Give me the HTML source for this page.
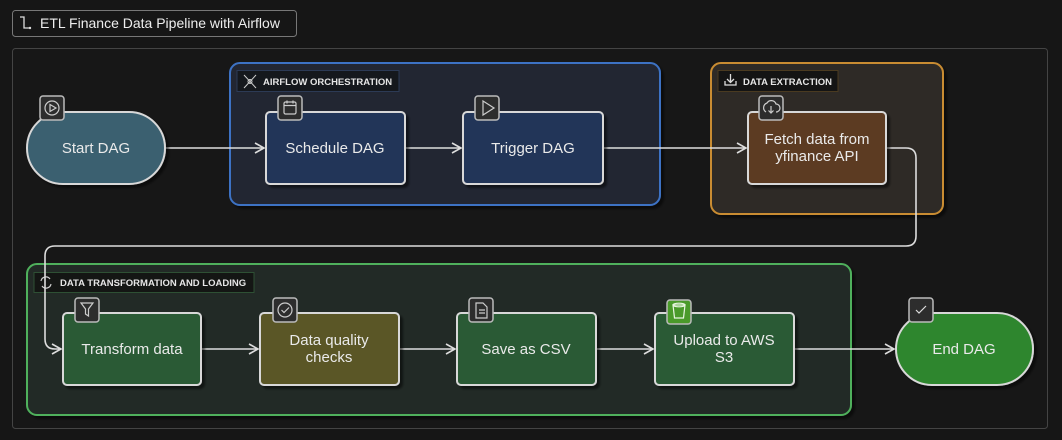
<!DOCTYPE html>
<html><head><meta charset="utf-8"><style>
html,body{margin:0;padding:0;background:#161616;}
svg{display:block;font-family:"Liberation Sans",sans-serif;}
</style></head><body>
<svg width="1062" height="440" viewBox="0 0 1062 440">
<defs>
<marker id="ah" markerWidth="12" markerHeight="12" refX="10" refY="6" orient="auto" markerUnits="userSpaceOnUse">
<path d="M1,1 L10,6 L1,11" fill="none" stroke="#ddd" stroke-width="1.6"/>
</marker>
<filter id="sh"><feDropShadow dx="3" dy="3" stdDeviation="1" flood-color="#000" flood-opacity="0.5"/></filter>
</defs>
<rect width="1062" height="440" fill="#161616"/>
<!-- title -->
<rect x="12.5" y="10.5" width="284" height="26" rx="3" fill="#161616" stroke="#777"/>
<path d="M20 17 h4 v11 h5" fill="none" stroke="#ddd" stroke-width="1.3"/>
<circle cx="30" cy="28" r="1.2" fill="#ddd"/>
<text x="40" y="28" fill="#eee" font-size="14">ETL Finance Data Pipeline with Airflow</text>
<!-- frame -->
<rect x="12.5" y="48.5" width="1035" height="380" rx="3" fill="#171717" stroke="#444"/>
<!-- groups -->
<rect x="230" y="63" width="430" height="142" rx="10" fill="#222831" stroke="#3c72c4" stroke-width="2" filter="url(#sh)"/>
<rect x="237" y="70.5" width="162" height="21" fill="#15181d" stroke="#2c3a55"/>
<text x="263" y="85" fill="#e6e6e6" font-size="9.5" font-weight="bold">AIRFLOW ORCHESTRATION</text>
<g stroke="#ccc" stroke-width="1" fill="none"><path d="M244 75 L256 88 M256 75 L244 88"/><circle cx="250" cy="81.5" r="2"/></g>

<rect x="711" y="63" width="232" height="151" rx="10" fill="#2e2c25" stroke="#c98c32" stroke-width="2" filter="url(#sh)"/>
<rect x="718" y="70.5" width="120" height="21" fill="#141414" stroke="#4a3a20"/>
<text x="743" y="85" fill="#e6e6e6" font-size="9.5" font-weight="bold">DATA EXTRACTION</text>
<path d="M725 81 v4 h11 v-4 M730.5 74 v8 M727 79 l3.5 3.5 l3.5 -3.5" fill="none" stroke="#ddd" stroke-width="1.3"/>

<rect x="27" y="264" width="824" height="151" rx="10" fill="#232a26" stroke="#4fb05c" stroke-width="2" filter="url(#sh)"/>
<rect x="34" y="272.5" width="220" height="20" fill="#141614" stroke="#2e5034"/>
<text x="60" y="286" fill="#e6e6e6" font-size="9.5" font-weight="bold">DATA TRANSFORMATION AND LOADING</text>
<path d="M41 281 a5 5 0 0 1 9 -2 M51 284 a5 5 0 0 1 -9 2" fill="none" stroke="#ccc" stroke-width="1.2"/>

<!-- connectors -->
<g stroke="#ddd" stroke-width="1.6" fill="none">
<path d="M165 148 H264" marker-end="url(#ah)"/>
<path d="M405 148 H461" marker-end="url(#ah)"/>
<path d="M603 148 H746" marker-end="url(#ah)"/>
<path d="M886 148 H906 Q916 148 916 158 V236 Q916 246 906 246 H55 Q45 246 45 256 V339 Q45 349 55 349 H61" marker-end="url(#ah)"/>
<path d="M201 349 H258" marker-end="url(#ah)"/>
<path d="M399 349 H455" marker-end="url(#ah)"/>
<path d="M596 349 H653" marker-end="url(#ah)"/>
<path d="M794 349 H894" marker-end="url(#ah)"/>
</g>

<!-- nodes -->
<g stroke="#d8d8d8" stroke-width="2" filter="url(#sh)">
<rect x="27" y="112" width="138" height="72" rx="36" fill="#3a6070"/>
<rect x="266" y="112" width="139" height="72" rx="4" fill="#223559"/>
<rect x="463" y="112" width="140" height="72" rx="4" fill="#223559"/>
<rect x="748" y="112" width="138" height="72" rx="4" fill="#5c3b22"/>
<rect x="63" y="313" width="138" height="72" rx="4" fill="#2b5a34"/>
<rect x="260" y="313" width="139" height="72" rx="4" fill="#5a5628"/>
<rect x="457" y="313" width="139" height="72" rx="4" fill="#2b5a34"/>
<rect x="655" y="313" width="139" height="72" rx="4" fill="#2b5a34"/>
<rect x="896" y="313" width="137" height="72" rx="36" fill="#2e862e"/>
</g>
<g fill="#eaeaea" font-size="15" text-anchor="middle">
<text x="96" y="153">Start DAG</text>
<text x="335" y="153">Schedule DAG</text>
<text x="533" y="153">Trigger DAG</text>
<text x="817" y="144">Fetch data from</text>
<text x="817" y="161">yfinance API</text>
<text x="132" y="354">Transform data</text>
<text x="329" y="345">Data quality</text>
<text x="329" y="362">checks</text>
<text x="526" y="354">Save as CSV</text>
<text x="724" y="345">Upload to AWS</text>
<text x="724" y="362">S3</text>
<text x="964" y="354">End DAG</text>
</g>

<!-- icon badges -->
<g stroke="#bbb" stroke-width="1.5">
<rect x="40" y="96" width="24" height="24" rx="3" fill="#2d2d2d"/>
<rect x="278" y="96" width="24" height="24" rx="3" fill="#2d2d2d"/>
<rect x="475" y="96" width="24" height="24" rx="3" fill="#2d2d2d"/>
<rect x="759" y="96" width="24" height="24" rx="3" fill="#2d2d2d"/>
<rect x="75" y="298" width="24" height="24" rx="3" fill="#2d2d2d"/>
<rect x="273" y="298" width="24" height="24" rx="3" fill="#2d2d2d"/>
<rect x="469" y="298" width="24" height="24" rx="3" fill="#2d2d2d"/>
<rect x="667" y="300" width="24" height="24" rx="3" fill="#4a9a2a"/>
<rect x="909" y="298" width="24" height="24" rx="3" fill="#2d2d2d"/>
</g>
<g fill="none" stroke="#ccc" stroke-width="1.2">
<circle cx="52" cy="108" r="7"/><path d="M50 104.5 L56 108 L50 111.5 Z"/>
<rect x="284" y="102" width="12" height="12" rx="1.5"/><path d="M284 105.5 h12 M287 100.5 v3 M293 100.5 v3"/>
<path d="M483 101 L494 108 L483 115 Z"/>
<path d="M766 112 a5 5 0 0 1 1 -9 a5 5 0 0 1 9 1 a4 4 0 0 1 0 8 M771 106 v7 M768.5 110.5 l2.5 2.5 l2.5 -2.5"/>
<path d="M81 303 h12 l-4.5 6 v7 l-3 -2 v-5 Z"/>
<circle cx="285" cy="310" r="7"/><path d="M281.5 310 l2.5 2.5 l5 -5"/>
<path d="M476 303 h7 l4 4 v11 h-11 Z M479 310 h6 M479 313 h6"/>
<path d="M673 305 h12 l-1.5 13 h-9 Z" stroke="#e8f5e0"/><ellipse cx="679" cy="305" rx="6" ry="1.8" stroke="#e8f5e0"/>
<path d="M916 310 l3 3 l7 -7" stroke="#ddd"/>
</g>
</svg>
</body></html>
